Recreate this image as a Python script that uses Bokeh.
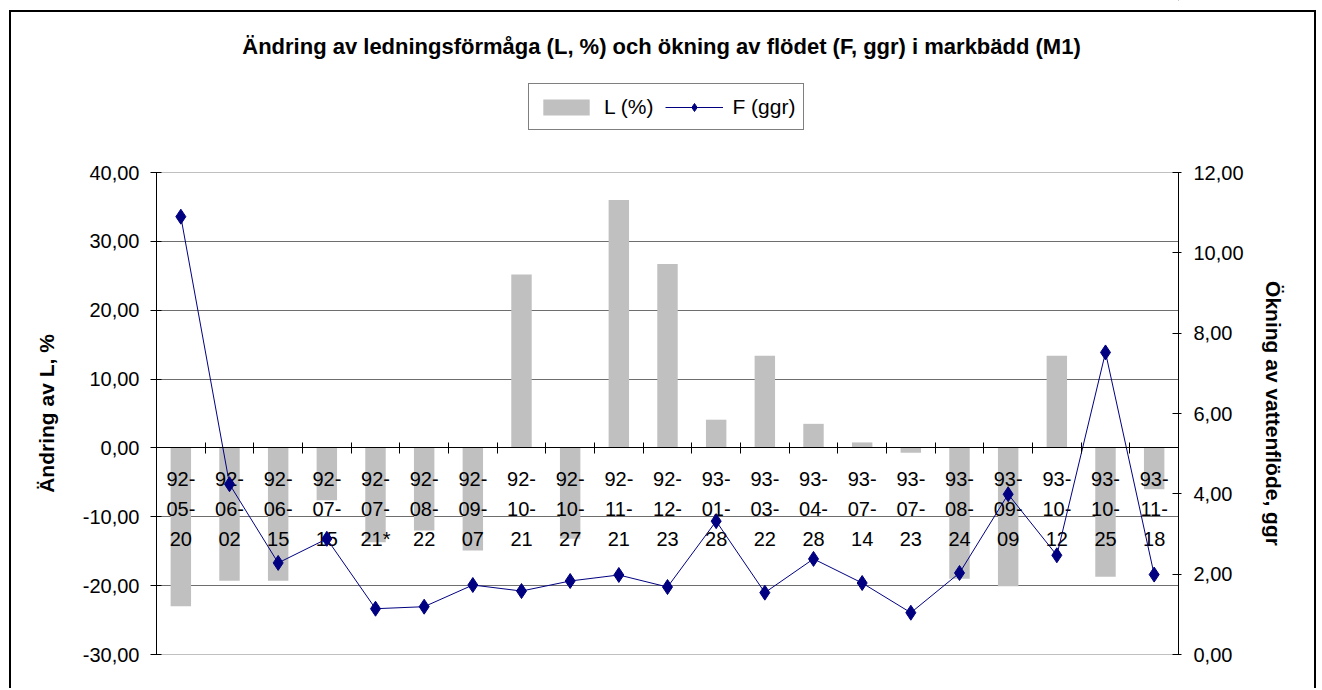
from bokeh.plotting import figure
from bokeh.layouts import column
from bokeh.models import (Range1d, LinearAxis, FixedTicker, Legend, LegendItem,
                          ColumnDataSource, Label)
from bokeh.embed import file_html
from bokeh.resources import INLINE
from bokeh.core.properties import value

# ---------------- data ----------------
dates = ["92-05-20", "92-06-02", "92-06-15", "92-07-15", "92-07-21*", "92-08-22",
         "92-09-07", "92-10-21", "92-10-27", "92-11-21", "92-12-23", "93-01-28",
         "93-03-22", "93-04-28", "93-07-14", "93-07-23", "93-08-24", "93-09-09",
         "93-10-12", "93-10-25", "93-11-18"]
L_pct = [-23.0, -19.3, -19.3, -7.6, -13.7, -12.0, -14.9, 25.2, -13.2, 36.0, 26.7,
         4.1, 13.4, 3.5, 0.8, -0.7, -19.0, -20.1, 13.4, -18.7, -6.0]
F_ggr = [10.9, 4.24, 2.28, 2.88, 1.14, 1.19, 1.73, 1.58, 1.83, 1.98, 1.68,
         3.32, 1.54, 2.38, 1.78, 1.04, 2.03, 3.99, 2.47, 7.52, 1.99]
left_ticks = [-30, -20, -10, 0, 10, 20, 30, 40]
left_labels = ["-30,00", "-20,00", "-10,00", "0,00", "10,00", "20,00", "30,00", "40,00"]
right_ticks = [0, 2, 4, 6, 8, 10, 12]
right_labels = ["0,00", "2,00", "4,00", "6,00", "8,00", "10,00", "12,00"]

title_text = "Ändring av ledningsförmåga (L, %) och ökning av flödet (F, ggr) i markbädd (M1)"
left_title = "Ändring av L, %"
right_title = "Ökning av vattenflöde, ggr"
legend_labels = ["L (%)", "F (ggr)"]

FONT = "Liberation Sans"
BAR_COLOR = "#c0c0c0"
LINE_COLOR = "#000080"
W = 1320            # total width
H = 688             # total height
HEAD_H = 152        # header (title + legend) height
FRAME_L, FRAME_R = 156, 1178   # plot-area left/right in page pixels
FRAME_T, FRAME_B = 172, 654    # plot-area top/bottom in page pixels

n = len(dates)
xs = [i + 0.5 for i in range(n)]
parts = [d.split("-") for d in dates]
line1 = [q[0] + "-" for q in parts]
line2 = [q[1] + "-" for q in parts]
line3 = [q[2] for q in parts]

src = ColumnDataSource(dict(x=xs, L=L_pct, F=F_ggr, t1=line1, t2=line2, t3=line3))

# ---------------- header: title + legend ----------------
head = figure(width=W, height=HEAD_H, output_backend="svg", toolbar_location=None,
              x_range=Range1d(FRAME_L, FRAME_R), y_range=Range1d(HEAD_H, 0),
              min_border_left=FRAME_L, min_border_right=W - FRAME_R,
              min_border_top=0, min_border_bottom=0,
              x_axis_location=None, y_axis_location=None, title=None)
head.outline_line_color = None
head.xgrid.visible = False
head.ygrid.visible = False
head.background_fill_color = None
head.border_fill_color = None
# ranges that keep the legend proxy glyphs far outside the header
head.extra_x_ranges = {"proxy": Range1d(-1000, -999)}
head.extra_y_ranges = {"proxy": Range1d(-1000, -999)}

head.add_layout(Label(x=661, y=46, text=title_text, text_align="center",
                      text_baseline="middle", text_font=FONT, text_font_size="22px",
                      text_font_style="bold", text_color="black"))

pb = head.vbar(x="x", top="L", width=0.42, source=src, fill_color=BAR_COLOR, line_color=None,
               x_range_name="proxy", y_range_name="proxy")
pl = head.line(x="x", y="F", source=src, line_color=LINE_COLOR, line_width=1,
               x_range_name="proxy", y_range_name="proxy")
pm = head.scatter(x="x", y="F", source=src, marker="diamond", size=15,
                  fill_color=LINE_COLOR, line_color=LINE_COLOR,
                  x_range_name="proxy", y_range_name="proxy")

legend = Legend(items=[LegendItem(label=legend_labels[0], renderers=[pb]),
                       LegendItem(label=legend_labels[1], renderers=[pl, pm])],
                location=(528 - FRAME_L, HEAD_H - 130), orientation="horizontal")
legend.label_text_font = FONT
legend.label_text_font_size = "21px"
legend.label_text_color = "black"
legend.label_height = 29
legend.glyph_width = 58
legend.glyph_height = 20
legend.label_standoff = 9
legend.spacing = 12
legend.padding = 8
legend.margin = 0
legend.border_line_color = "black"
legend.border_line_width = 1
legend.background_fill_color = "white"
head.add_layout(legend, "center")

# ---------------- main chart ----------------
p = figure(width=W, height=H - HEAD_H, output_backend="svg", toolbar_location=None,
           x_range=Range1d(0, n), y_range=Range1d(-30, 40), title=None,
           min_border_left=FRAME_L, min_border_right=W - FRAME_R,
           min_border_top=FRAME_T - HEAD_H, min_border_bottom=H - FRAME_B,
           x_axis_location=None, y_axis_location=None)
p.extra_y_ranges = {"F": Range1d(0, 12)}
p.background_fill_color = "white"
p.border_fill_color = None
p.outline_line_color = "#c0c0c0"
p.outline_line_width = 1

yl = LinearAxis(ticker=FixedTicker(ticks=left_ticks),
                major_label_overrides={t: s for t, s in zip(left_ticks, left_labels)})
yl.axis_label = left_title
yl.axis_label_text_font = FONT
yl.axis_label_text_font_size = "21px"
yl.axis_label_text_font_style = "bold"
yl.axis_label_text_color = "black"
yl.axis_label_standoff = 22
yl.major_label_text_font = FONT
yl.major_label_text_font_size = "20px"
yl.major_label_text_color = "black"
yl.major_label_standoff = 11
yl.major_tick_out = 6
yl.major_tick_in = 5
yl.minor_tick_line_color = None
yl.axis_line_color = "black"
yl.major_tick_line_color = "black"
p.add_layout(yl, "left")

yr = LinearAxis(y_range_name="F", ticker=FixedTicker(ticks=right_ticks),
                major_label_overrides={t: s for t, s in zip(right_ticks, right_labels)})
yr.axis_label = right_title
yr.axis_label_text_font = FONT
yr.axis_label_text_font_size = "21px"
yr.axis_label_text_font_style = "bold"
yr.axis_label_text_color = "black"
yr.axis_label_standoff = 15
yr.major_label_text_font = FONT
yr.major_label_text_font_size = "20px"
yr.major_label_text_color = "black"
yr.major_label_standoff = 12
yr.major_tick_out = 3
yr.major_tick_in = 6
yr.minor_tick_line_color = None
yr.axis_line_color = "black"
yr.major_tick_line_color = "black"
p.add_layout(yr, "right")

xa = LinearAxis(ticker=FixedTicker(ticks=list(range(1, n))), fixed_location=0)
xa.major_label_text_font_size = "1px"
xa.major_label_text_color = None
xa.major_tick_in = 5
xa.major_tick_out = 6
xa.minor_tick_line_color = None
xa.axis_line_color = "black"
xa.major_tick_line_color = "black"
p.add_layout(xa, "below")

p.xgrid.visible = False
p.ygrid.ticker = FixedTicker(ticks=[-20, -10, 10, 20, 30])
p.ygrid.grid_line_color = "#6e6e6e"
p.ygrid.grid_line_width = 1

p.vbar(x="x", top="L", bottom=0, width=0.42, source=src,
       fill_color=BAR_COLOR, line_color=None)

for col, off in (("t1", 31), ("t2", 61), ("t3", 91)):
    p.text(x="x", y=0, text=col, source=src, text_align="center",
           text_baseline="middle", y_offset=off, text_font=value(FONT),
           text_font_size="20px", text_color="black")

p.line(x="x", y="F", source=src, y_range_name="F", line_color=LINE_COLOR, line_width=1)
p.scatter(x="x", y="F", source=src, y_range_name="F", marker="diamond", size=15,
          fill_color=LINE_COLOR, line_color=LINE_COLOR)

# outer chart-area border (left, right and top edges) painted behind the transparent canvases
border_css = {
    "background-image": ("linear-gradient(#000,#000), linear-gradient(#000,#000), "
                         "linear-gradient(#000,#000)"),
    "background-size": "2px 700px, 2px 700px, 1307px 2px",
    "background-position": "9px 10px, 1314px 10px, 9px 10px",
    "background-repeat": "no-repeat",
}
layout = column(head, p, spacing=0, styles=border_css)

open("out.html", "w").write(file_html(layout, INLINE))
